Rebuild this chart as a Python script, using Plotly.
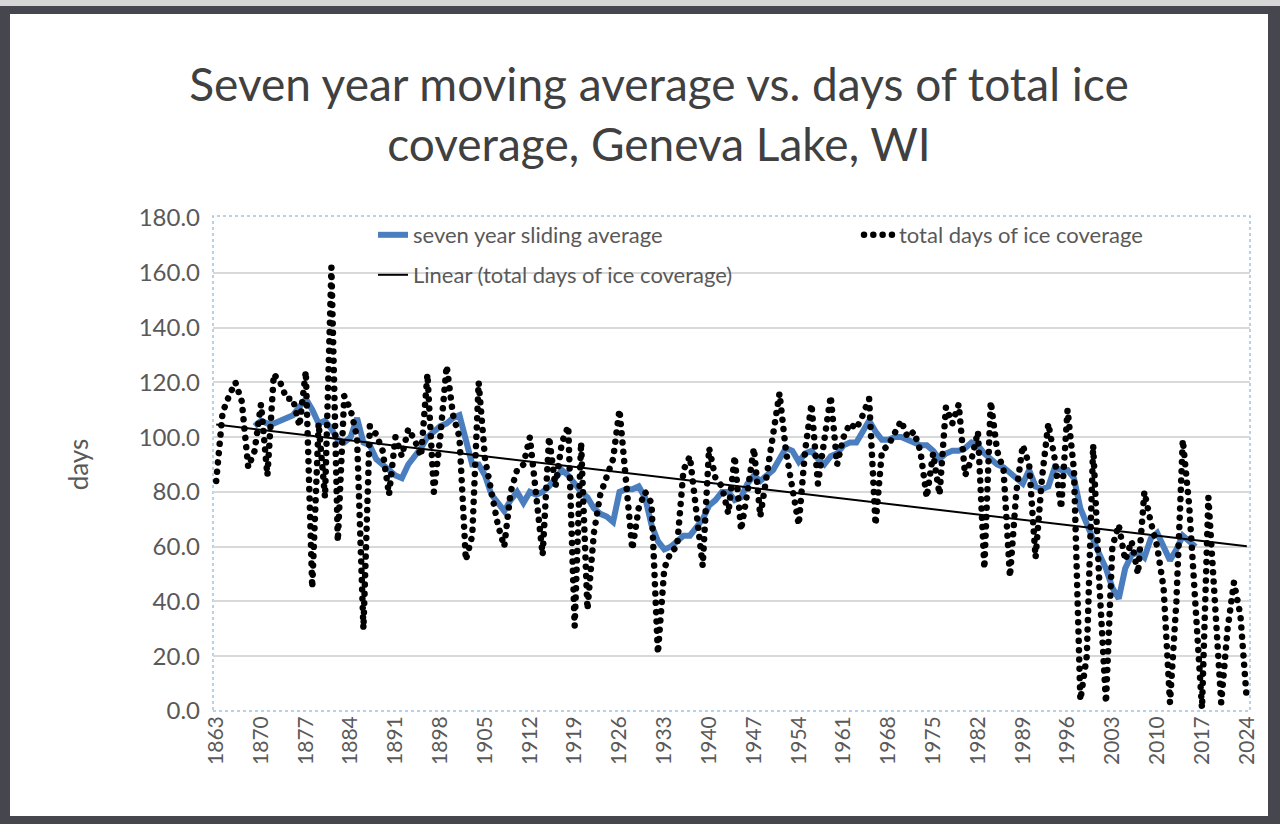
import numpy as np
import plotly.graph_objects as go

years = list(range(1863, 2025))

ice_days = [
    84, 109, 115, 120, 113, 89, 95, 112, 86, 123,   # 1863-1872
    120, 114, 114, 104, 124, 45, 105, 78, 162, 62,  # 1873-1882
    115, 110, 100, 30, 104, 101, 95, 79, 100, 93,   # 1883-1892
    103, 99, 93, 123, 80, 100, 126, 108, 100, 55,   # 1893-1902
    64, 120, 92, 80, 68, 60, 80, 88, 90, 100,       # 1903-1912
    80, 57, 100, 82, 98, 104, 31, 98, 37, 65,       # 1913-1922
    79, 86, 92, 110, 85, 59, 74, 80, 76, 21,        # 1923-1932
    52, 58, 60, 88, 93, 75, 53, 96, 85, 82,         # 1933-1942
    72, 93, 66, 80, 96, 71, 85, 100, 116, 95,       # 1943-1952
    80, 68, 95, 112, 83, 100, 115, 90, 100, 105,    # 1953-1962
    103, 108, 114, 68, 95, 97, 102, 106, 100, 102,  # 1963-1972
    95, 78, 94, 79, 111, 105, 112, 86, 92, 102,     # 1973-1982
    52, 113, 95, 88, 49, 80, 97, 90, 56, 85,        # 1983-1992
    105, 92, 74, 110, 88, 4, 20, 97, 45, 3,         # 1993-2002
    60, 68, 55, 62, 50, 80, 69, 60, 45, 3,          # 2003-2012
    40, 99, 75, 40, 1, 78, 40, 3, 30, 47,           # 2013-2022
    35, 4,                                          # 2023-2024
]

avg_years = list(range(1869, 2017))
seven_year_avg = [
    104, 106, 105, 105, 106, 107, 108, 111, 114, 110,   # 1869-1878
    105, 106, 103, 99, 98, 100, 107, 98, 97, 92,        # 1879-1888
    90, 88, 86, 85, 90, 93, 96, 100, 102, 104,          # 1889-1898
    105, 107, 108, 98, 90, 90, 86, 79, 76, 73,          # 1899-1908
    77, 80, 76, 80, 79, 80, 82, 85, 88, 86,             # 1909-1918
    83, 80, 78, 74, 72, 71, 69, 80, 81, 81,             # 1919-1928
    82, 78, 68, 62, 59, 60, 62, 64, 64, 67,             # 1929-1938
    70, 75, 77, 80, 80, 77, 78, 83, 86, 84,             # 1939-1948
    86, 88, 92, 96, 95, 91, 94, 95, 92, 90,             # 1949-1958
    93, 94, 97, 98, 98, 102, 106, 102, 99, 99,          # 1959-1968
    100, 100, 99, 98, 97, 97, 95, 92, 94, 95,           # 1969-1978
    95, 96, 98, 97, 94, 92, 90, 89, 87, 85,             # 1979-1988
    83, 88, 82, 81, 82, 89, 88, 88, 85, 74,             # 1989-1998
    68, 63, 57, 52, 45, 41, 52, 57, 58, 56,             # 1999-2008
    63, 65, 60, 55, 59, 64, 62, 60,                     # 2009-2016
]

y_ticks = [0, 20, 40, 60, 80, 100, 120, 140, 160, 180]
x_ticks = list(range(1863, 2025, 7))

# Linear trend line of the yearly values (least squares, as Excel's "Linear" trendline)
slope, intercept = np.polyfit(years, ice_days, 1)
trend = [slope * y + intercept for y in years]

FONT = "Lato"
GREY = "#595959"

fig = go.Figure()

fig.add_trace(go.Scatter(
    x=avg_years, y=seven_year_avg, mode="lines",
    name="seven year sliding average",
    line=dict(color="#4a7ebf", width=6),
    legend="legend", showlegend=True,
))
fig.add_trace(go.Scatter(
    x=years, y=ice_days, mode="lines",
    name="total days of ice coverage",
    line=dict(color="#000000", width=6.5, dash="5px,4px"),
    legend="legend3", showlegend=True,
))
fig.add_trace(go.Scatter(
    x=years, y=trend, mode="lines",
    name="Linear (total days of ice coverage)",
    line=dict(color="#000000", width=2),
    legend="legend2", showlegend=True,
))

W, H = 1280, 824
L, R, T, B = 213, 30, 218, 113
pw, ph = W - L - R, H - T - B


def px_x(p):
    return (p - L) / pw


def px_y(p):
    return (H - B - p) / ph


LEG_FONT = dict(size=22, color=GREY, family=FONT)


def leg(xpx, ytop):
    return dict(orientation="h", x=px_x(xpx), y=px_y(ytop), xanchor="left", yanchor="top",
                font=LEG_FONT, bgcolor="rgba(0,0,0,0)")


fig.update_layout(
    width=W, height=H,
    margin=dict(l=L, r=R, t=T, b=B, pad=0, autoexpand=False),
    paper_bgcolor="#46464f",
    plot_bgcolor="white",
    showlegend=True,
    font=dict(family=FONT, color=GREY),
    title=dict(
        text="Seven year moving average vs. days of total ice<br>coverage, Geneva Lake, WI",
        x=659 / W, xref="container", xanchor="center",
        y=1 - 101 / H, yref="container", yanchor="middle",
        font=dict(family=FONT, size=46, color="#404040"),
    ),
    xaxis=dict(
        range=[1862.5, 2024.5],
        tickmode="array", tickvals=x_ticks, ticktext=[str(t) for t in x_ticks],
        tickangle=-90, tickfont=dict(size=21, color=GREY),
        showgrid=False, zeroline=False,
        showline=False, ticks="", automargin=False,
    ),
    yaxis=dict(
        range=[0, 180],
        tickmode="array", tickvals=y_ticks, ticktext=[f"{v:.1f}" for v in y_ticks],
        tickfont=dict(size=24, color=GREY),
        ticklabelstandoff=12,
        gridcolor="#d9d9d9", gridwidth=2,
        zeroline=False, showline=False, ticks="", automargin=False,
        title=dict(text="days", font=dict(size=26, color=GREY), standoff=42),
    ),
    legend=leg(373, 214),
    legend3=leg(859, 214),
    legend2=leg(373, 254),
    shapes=[
        dict(type="rect", xref="paper", yref="paper", layer="below",
             x0=px_x(0), x1=px_x(1280), y0=px_y(6), y1=px_y(0),
             fillcolor="#d6d6d6", line=dict(width=0)),
        dict(type="rect", xref="paper", yref="paper", layer="below",
             x0=px_x(10), x1=px_x(1268), y0=px_y(816), y1=px_y(14),
             fillcolor="white", line=dict(width=0)),
        dict(type="rect", xref="paper", yref="paper", layer="below",
             x0=0, x1=1, y0=0, y1=px_y(216),
             fillcolor="rgba(0,0,0,0)", line=dict(color="#9dc3e6", width=1.5, dash="dot")),
    ],
)

post = """
document.body.style.margin = '0';
document.body.style.padding = '0';
var gd = document.getElementById('{plot_id}');
function roundDots(){
  gd.querySelectorAll('path.js-line').forEach(function(p){
    var d = p.style.strokeDasharray;
    if (d && d !== 'none' && d !== '') {
      p.style.strokeLinecap = 'round';
      p.style.strokeDasharray = '0.01px,9.3px';
    }
  });
}
roundDots();
gd.on('plotly_afterplot', roundDots);
"""

fig.write_html("out.html", post_script=post, config={"displayModeBar": False})
